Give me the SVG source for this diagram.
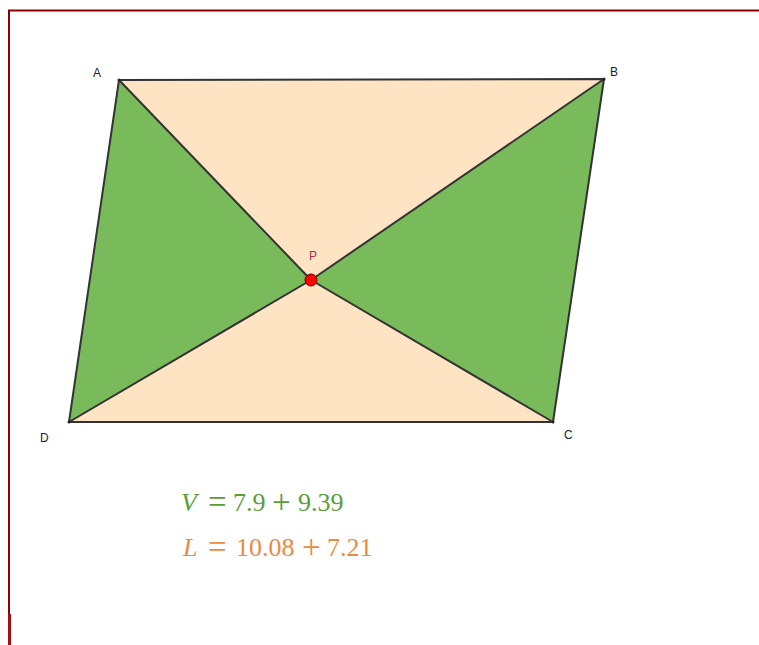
<svg xmlns="http://www.w3.org/2000/svg" width="759" height="645" viewBox="0 0 759 645">
<style>
.lbl{font-family:"Liberation Sans",Arial,sans-serif;font-size:12px;fill:#222}
.eq{font-family:"Liberation Serif","Times New Roman",serif;font-size:26px}
.op{font-size:33px}
.edge{stroke:#333;stroke-width:2;fill:none;stroke-linejoin:round}
.green{fill:#79bb5a}
.beige{fill:#ffe4c4}
</style>
<rect width="759" height="645" fill="#fff"/>
<g id="frame">
<path d="M9 645 V10.5 H759" fill="none" stroke="#8b0000" stroke-width="2"/>
<rect x="8" y="614" width="3" height="31" fill="#a01010"/>
</g>
<g id="tri-APB"><polygon class="beige" points="119,80 604,79 311,280"/></g>
<g id="tri-DPC"><polygon class="beige" points="69,422 553,422 311,280"/></g>
<g id="tri-APD"><polygon class="green" points="119,80 311,280 69,422"/></g>
<g id="tri-BPC"><polygon class="green" points="604,79 553,422 311,280"/></g>
<g id="connectors">
<polygon class="edge" points="119,80 604,79 553,422 69,422"/>
<line class="edge" x1="119" y1="80" x2="311" y2="280"/>
<line class="edge" x1="311" y1="280" x2="553" y2="422"/>
<line class="edge" x1="604" y1="79" x2="311" y2="280"/>
<line class="edge" x1="311" y1="280" x2="69" y2="422"/>
</g>
<g id="vertices" fill="#222">
<circle cx="119" cy="80" r="1.5"/>
<circle cx="604" cy="79" r="1.5"/>
<circle cx="553" cy="422" r="1.5"/>
<circle cx="69" cy="422" r="1.5"/>
</g>
<g id="P"><circle cx="311" cy="280" r="6" fill="#f00" stroke="#600" stroke-width="1"/>
<text class="lbl" x="309" y="260" style="fill:#b03050">P</text></g>
<g id="A"><text class="lbl" x="93" y="77">A</text></g>
<g id="B"><text class="lbl" x="610" y="76">B</text></g>
<g id="C"><text class="lbl" x="564" y="439">C</text></g>
<g id="D"><text class="lbl" x="40" y="442">D</text></g>
<g id="eqV"><text class="eq" y="511" fill="#5a9e38"><tspan x="181" font-style="italic">V</tspan><tspan class="op" x="208" dy="2">=</tspan><tspan x="233" dy="-2">7.9</tspan><tspan class="op" x="272" dy="2">+</tspan><tspan x="298" dy="-2">9.39</tspan></text></g>
<g id="eqL"><text class="eq" y="556" fill="#ec8a40"><tspan x="183" font-style="italic">L</tspan><tspan class="op" x="208" dy="2">=</tspan><tspan x="236" dy="-2">10.08</tspan><tspan class="op" x="302" dy="2">+</tspan><tspan x="327" dy="-2">7.21</tspan></text></g>
</svg>
